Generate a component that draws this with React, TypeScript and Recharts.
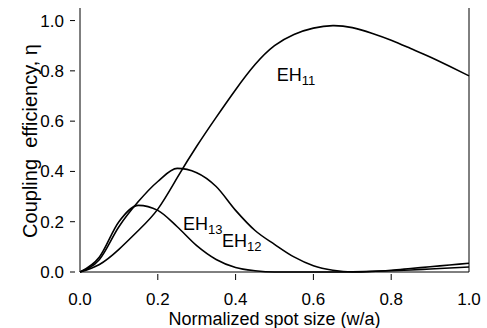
import React from 'react';
import { LineChart, Line, XAxis, YAxis, ReferenceLine, ReferenceDot, Label } from 'recharts';

const spotSize = [0, 0.05, 0.1, 0.15, 0.2, 0.25, 0.3, 0.35, 0.4, 0.45, 0.5, 0.55, 0.6, 0.65, 0.7, 0.75, 0.8, 0.85, 0.9, 0.95, 1.0];
const eh11 = [0, 0.03, 0.09, 0.165, 0.25, 0.375, 0.5, 0.615, 0.725, 0.825, 0.9, 0.945, 0.97, 0.98, 0.972, 0.95, 0.922, 0.889, 0.855, 0.818, 0.78];
const eh12 = [0, 0.05, 0.18, 0.28, 0.36, 0.412, 0.395, 0.34, 0.245, 0.165, 0.11, 0.06, 0.025, 0.007, 0.0, 0.002, 0.007, 0.014, 0.021, 0.028, 0.035];
const eh13 = [0, 0.06, 0.2, 0.265, 0.245, 0.18, 0.105, 0.05, 0.018, 0.005, 0, 0, 0, 0, 0.001, 0.003, 0.005, 0.008, 0.012, 0.016, 0.02];
const xTicks = [0, 0.2, 0.4, 0.6, 0.8, 1.0];
const yTicks = [0, 0.2, 0.4, 0.6, 0.8, 1.0];

const modeLabels = [
  { name: 'EH', sub: '11', x: 0.506, y: 0.758 },
  { name: 'EH', sub: '12', x: 0.365, y: 0.099 },
  { name: 'EH', sub: '13', x: 0.265, y: 0.167 },
];

const data = spotSize.map((s, i) => ({ s, eh11: eh11[i], eh12: eh12[i], eh13: eh13[i] }));

const FONT = 'Liberation Sans, Arial, sans-serif';

const XTick = (props: any) => {
  const { x, y, payload } = props;
  return (
    <g>
      {payload.value > 0 && payload.value < 1 && <line x1={x} x2={x} y1={y} y2={y - 6} stroke="#000" />}
      <text x={x} y={y + 25} textAnchor="middle" fontSize={17} fontFamily={FONT} fill="#000">
        {payload.value.toFixed(1)}
      </text>
    </g>
  );
};

const YTick = (props: any) => {
  const { x, y, payload } = props;
  return (
    <g>
      <line x1={x - 2} x2={x + 3} y1={y} y2={y} stroke="#000" />
      <text x={x - 8} y={y + 6} textAnchor="end" fontSize={17} fontFamily={FONT} fill="#000">
        {payload.value.toFixed(1)}
      </text>
    </g>
  );
};

const ModeLabel = (name: string, sub: string) => (props: any) => {
  const { viewBox } = props;
  const x = viewBox.x + (viewBox.width || 0) / 2;
  const y = viewBox.y + (viewBox.height || 0) / 2;
  return (
    <text x={x} y={y} fontSize={18} fontFamily={FONT} fill="#000">
      {name}
      <tspan fontSize={13} dy={4}>{sub}</tspan>
    </text>
  );
};

export default function App() {
  return (
    <div style={{ position: 'absolute', left: 0, top: 0, background: '#fff' }}>
      <LineChart width={487} height={328} data={data} margin={{ top: 8, right: 18, bottom: 0, left: 0 }}>
        <XAxis
          dataKey="s"
          type="number"
          domain={[0, 1]}
          ticks={xTicks}
          tick={<XTick />}
          tickLine={false}
          axisLine={{ stroke: '#000' }}
          height={56}
          interval={0}
        >
          <Label
            content={(p: any) => (
              <text x={p.viewBox.x + p.viewBox.width / 2} y={325} textAnchor="middle" fontSize={18} fontFamily={FONT} fill="#000">
                Normalized spot size (w/a)
              </text>
            )}
          />
        </XAxis>
        <YAxis
          type="number"
          domain={[0, 1.05]}
          ticks={yTicks}
          tick={<YTick />}
          tickLine={false}
          axisLine={{ stroke: '#000' }}
          width={80}
          interval={0}
        >
          <Label
            content={(p: any) => (
              <text
                x={37}
                y={p.viewBox.y + 133}
                transform={`rotate(-90 37 ${p.viewBox.y + 133})`}
                textAnchor="middle"
                fontSize={20}
                fontFamily={FONT}
                fill="#000"
                style={{ whiteSpace: 'pre' }}
              >
                {'Coupling  efficiency, η'}
              </text>
            )}
          />
        </YAxis>
        <ReferenceLine x={1} stroke="#000" strokeWidth={1} />
        <Line type="natural" dataKey="eh11" stroke="#000" strokeWidth={1.6} dot={false} isAnimationActive={false} />
        <Line type="monotone" dataKey="eh12" stroke="#000" strokeWidth={1.6} dot={false} isAnimationActive={false} />
        <Line type="monotone" dataKey="eh13" stroke="#000" strokeWidth={1.6} dot={false} isAnimationActive={false} />
        {modeLabels.map((m) => (
          <ReferenceDot key={m.sub} x={m.x} y={m.y} r={0} stroke="none" fill="none" label={ModeLabel(m.name, m.sub)} />
        ))}
      </LineChart>
    </div>
  );
}
